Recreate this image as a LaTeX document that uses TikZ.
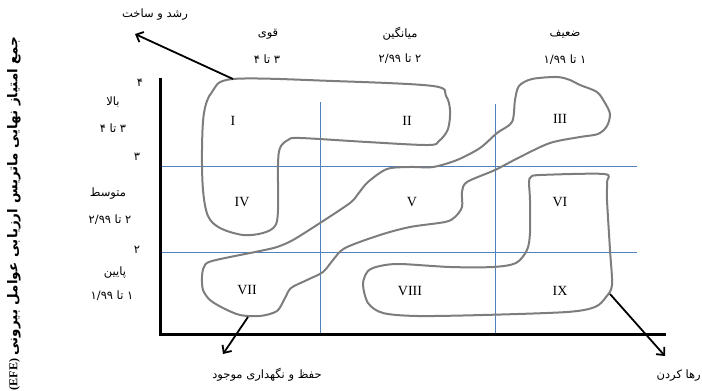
\documentclass[tikz,border=0pt]{standalone}
\usepackage{fontspec}
\setmainfont{Liberation Serif}
\newfontfamily\fafont[Script=Arabic]{DejaVu Sans}
\TeXXeTstate=1
\usetikzlibrary{arrows.meta}
\definecolor{blobgray}{RGB}{125,125,125}
\definecolor{gridblue}{RGB}{79,129,189}
\begin{document}
\begin{tikzpicture}[x=1pt,y=-1pt,
  blob/.style={draw=blobgray,line width=2pt},
  gridline/.style={draw=gridblue,line width=0.9pt},
  axis/.style={draw=black,line width=3pt},
  pointer/.style={draw=black,line width=1.8pt,-{Straight Barb[length=6pt,width=11pt]}},
  lbl/.style={font=\fafont\fontsize{11.5}{13}\selectfont,inner sep=0pt},
  cell/.style={font=\fontsize{14}{16}\selectfont,inner sep=0pt}]
\useasboundingbox (0,0) rectangle (702,391);
% grid and axes
\coordinate (o) at (160,334); \coordinate (ytop) at (160,78); \coordinate (xend) at (666,334);
\coordinate (h3a) at (160,166); \coordinate (h3b) at (637,166);
\coordinate (h2a) at (160,252); \coordinate (h2b) at (637,252);
\coordinate (v1a) at (320,102); \coordinate (v1b) at (320,334);
\coordinate (v2a) at (495,104); \coordinate (v2b) at (495,334);
\draw[gridline] (h3a) -- (h3b) (h2a) -- (h2b) (v1a) -- (v1b) (v2a) -- (v2b);
\draw[axis] (ytop) -- (o) -- (xend);
% regions
\draw[blob] plot[smooth cycle,tension=0.55] coordinates {(233,79) (333,81) (433,86) (446,96) (450,110) (448,129) (439,141) (428,145) (367,142) (300,138) (288,140) (280,148) (278,165) (278,210) (275,226) (263,233) (243,235) (220,228) (208,216) (203,190) (202,150) (204,113) (212,92)};
\draw[blob] plot[smooth cycle,tension=0.5] coordinates {(557,77) (570,80) (580,85) (597,92) (605,103) (610,114) (607,126) (598,134) (580,137) (550,143) (520,157) (495,170) (467,182) (462,192) (462,207) (455,217) (445,222) (410,227) (380,235) (345,248) (333,260) (323,272) (307,280) (291,288) (285,298) (277,311) (260,316) (240,315) (223,308) (210,300) (203,290) (202,277) (204,267) (212,261) (260,251) (277,247) (293,240) (320,223) (350,203) (358,194) (368,182) (387,169) (410,167) (433,167) (457,160) (480,148) (497,133) (512,122) (515,100) (519,86) (532,79)};
\draw[blob] plot[smooth cycle,tension=0.5] coordinates {(531,177) (540,175) (604,174) (607,182) (607,200) (610,250) (612,285) (606,297) (595,307) (567,312) (483,315) (417,316) (383,313) (368,303) (363,284) (368,271) (380,266) (400,264) (450,267) (493,267) (516,263) (527,250) (530,233) (530,200) (529,182)};
\node[cell] (c1) at (233,121) {I};
\node[cell] (c2) at (407,121) {II};
\node[cell] (c3) at (560,119) {III};
\node[cell] (c4) at (242,202) {IV};
\node[cell] (c5) at (412,202) {V};
\node[cell] (c6) at (560,202) {VI};
\node[cell] (c7) at (247,290) {VII};
\node[cell] (c8) at (410,291) {VIII};
\node[cell] (c9) at (560,291) {IX};
% column and row captions
\node[lbl] (strong) at (268,34) {\beginR قوی\endR};
\node[lbl] (strongv) at (267,59) {\beginR ۳ تا ۴\endR};
\node[lbl] (avg) at (400,34) {\beginR میانگین\endR};
\node[lbl] (avgv) at (400,59) {\beginR ۲ تا ۲/۹۹\endR};
\node[lbl] (weak) at (565,34) {\beginR ضعیف\endR};
\node[lbl] (weakv) at (565,60) {\beginR ۱ تا ۱/۹۹\endR};
\node[lbl] (high) at (113,102) {\beginR بالا\endR};
\node[lbl] (highv) at (113,128) {\beginR ۳ تا ۴\endR};
\node[lbl] (mid) at (108,194) {\beginR متوسط\endR};
\node[lbl] (midv) at (110,220) {\beginR ۲ تا ۲/۹۹\endR};
\node[lbl] (low) at (115,273) {\beginR پایین\endR};
\node[lbl] (lowv) at (112,296) {\beginR ۱ تا ۱/۹۹\endR};
\node[lbl] (t4) at (140,83) {۴};
\node[lbl] (t3) at (137,157) {۳};
\node[lbl] (t2) at (137,250) {۲};
% strategies
\coordinate (g0) at (233,79); \coordinate (g1) at (135,34);
\coordinate (k0) at (248,317); \coordinate (k1) at (223,354);
\coordinate (q0) at (610,294); \coordinate (q1) at (665,356);
\draw[pointer] (g0) -- (g1);
\draw[pointer] (k0) -- (k1);
\draw[pointer] (q0) -- (q1);
\node[lbl] (grow) at (155,15) {\beginR رشد و ساخت\endR};
\node[lbl] (keep) at (267,375) {\beginR حفظ و نگهداری موجود\endR};
\node[lbl,anchor=east] (quit) at (701,376) {\beginR رها کردن\endR};
\node[rotate=90,anchor=east,inner sep=0pt,font=\bfseries\fontsize{12}{14}\selectfont] (ttl) at (14,36)
  {(EFE) {\fafont\fontsize{13.5}{15}\selectfont\beginR جمع امتیاز نهایی ماتریس ارزیابی عوامل بیرونی\endR}};
\end{tikzpicture}
\end{document}
